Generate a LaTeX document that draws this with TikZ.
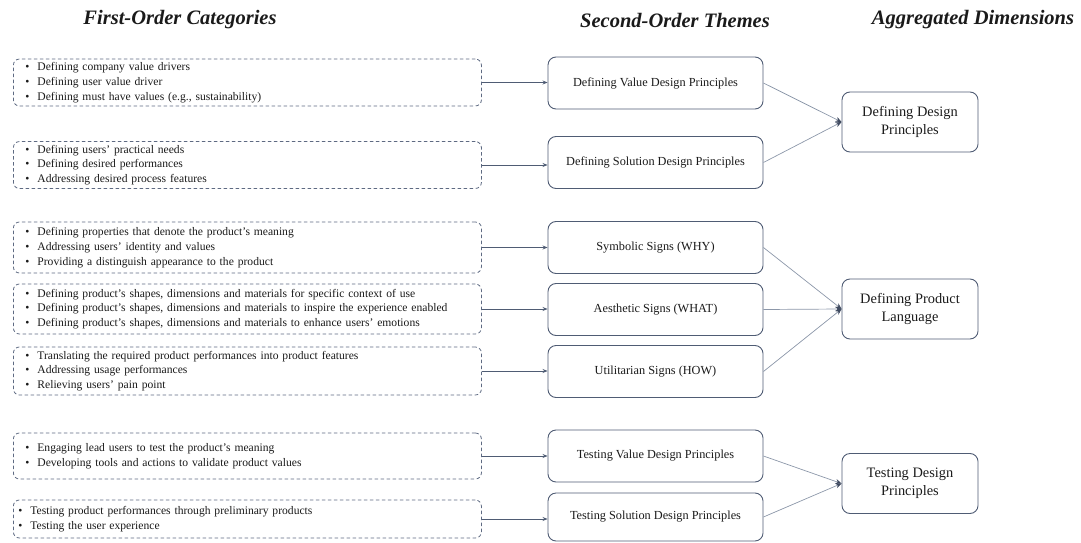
\documentclass[tikz,border=0pt]{standalone}
\usepackage{fontspec}
\setmainfont{Liberation Serif}[BoldItalicFont={Liberation Serif Bold Italic}]
\usetikzlibrary{arrows.meta}

\definecolor{boxline}{HTML}{4F5C74}
\definecolor{dashline}{HTML}{5E6A82}
\definecolor{linkline}{HTML}{8C97A9}
\definecolor{tipfill}{HTML}{3F4A60}
\definecolor{inktext}{HTML}{1A1A1A}

\newcommand{\bul}{\makebox[12pt][l]{\textbullet}}

\begin{document}
\begin{tikzpicture}[x=1pt, y=-1pt, text=inktext,
  head/.style={font=\fontsize{20.5}{24}\selectfont\bfseries\itshape},
  cat/.style={draw=dashline, line width=0.8pt, dash pattern=on 3.5pt off 2.5pt, rounded corners=6pt, anchor=west,
    minimum width=468pt, text width=444pt, inner xsep=12pt, align=left,
    font=\fontsize{11.6}{14.8}\selectfont},
  theme/.style={draw=boxline, line width=0.9pt, rounded corners=8pt, minimum width=215pt, minimum height=52pt,
    font=\fontsize{12.3}{15}\selectfont},
  dim/.style={draw=boxline, line width=0.9pt, rounded corners=8pt, minimum width=136pt, minimum height=60pt,
    align=center, font=\fontsize{14.4}{17.5}\selectfont},
  feed/.style={draw=boxline, line width=0.7pt, -{Stealth[length=5pt,width=4pt]}},
  merge/.style={draw=linkline, line width=0.7pt, -{Stealth[length=6pt,width=5pt,color=tipfill]}}]

\useasboundingbox (0,0) rectangle (1081,543);

\node[head] (h1) at (180,20) {First-Order Categories};
\node[head] (h2) at (675,20) {Second-Order Themes};
\node[head] (h3) at (973,20) {Aggregated Dimensions};

% first-order categories
\node[cat, minimum height=45pt] (c1) at (13,82.5) {\bul Defining company value drivers\\
  \bul Defining user value driver\\
  \bul Defining must have values (e.g., sustainability)};
\node[cat, minimum height=46pt] (c2) at (13,165) {\bul Defining users' practical needs\\
  \bul Defining desired performances\\
  \bul Addressing desired process features};
\node[cat, minimum height=51pt] (c3) at (13,247.5) {\bul Defining properties that denote the product's meaning\\
  \bul Addressing users' identity and values\\
  \bul Providing a distinguish appearance to the product};
\node[cat, minimum height=50pt] (c4) at (13,309) {\bul Defining product's shapes, dimensions and materials for specific context of use\\
  \bul Defining product's shapes, dimensions and materials to inspire the experience enabled\\
  \bul Defining product's shapes, dimensions and materials to enhance users' emotions};
\node[cat, minimum height=48pt] (c5) at (13,371) {\bul Translating the required product performances into product features\\
  \bul Addressing usage performances\\
  \bul Relieving users' pain point};
\node[cat, minimum height=46pt] (c6) at (13,456) {\bul Engaging lead users to test the product's meaning\\
  \bul Developing tools and actions to validate product values};
\node[cat, minimum height=38pt, inner xsep=5pt, text width=458pt] (c7) at (13,519) {\bul Testing product performances through preliminary products\\
  \bul Testing the user experience};

% second-order themes
\node[theme] (t1) at (655.5,83) {Defining Value Design Principles};
\node[theme] (t2) at (655.5,162.5) {Defining Solution Design Principles};
\node[theme] (t3) at (655.5,247.5) {Symbolic Signs (WHY)};
\node[theme] (t4) at (655.5,309.5) {Aesthetic Signs (WHAT)};
\node[theme] (t5) at (655.5,371.5) {Utilitarian Signs (HOW)};
\node[theme] (t6) at (655.5,456) {Testing Value Design Principles};
\node[theme, minimum height=48pt] (t7) at (655.5,517) {Testing Solution Design Principles};

% aggregated dimensions
\node[dim] (d1) at (910,122) {Defining Design\\Principles};
\node[dim] (d2) at (910,309) {Defining Product\\Language};
\node[dim] (d3) at (910,483.5) {Testing Design\\Principles};

\foreach \i in {1,...,7}
  \draw[feed] (c\i.east) -- (c\i.east -| t\i.west);

\draw[merge] (t1.east) -- (d1.west);
\draw[merge] (t2.east) -- (d1.west);
\draw[merge] (t3.east) -- (d2.west);
\draw[merge] (t4.east) -- (d2.west);
\draw[merge] (t5.east) -- (d2.west);
\draw[merge] (t6.east) -- (d3.west);
\draw[merge] (t7.east) -- (d3.west);

\end{tikzpicture}
\end{document}
